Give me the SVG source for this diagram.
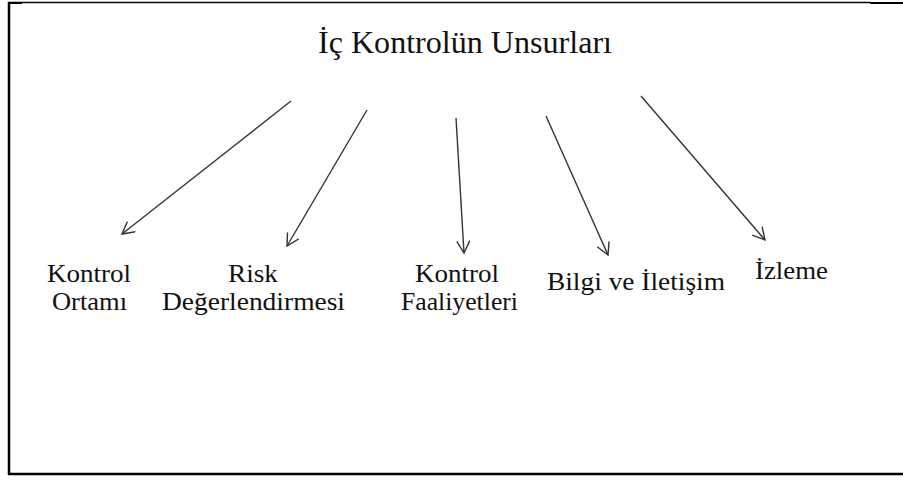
<svg xmlns="http://www.w3.org/2000/svg" width="903" height="480" viewBox="0 0 903 480">
<style>
text{font-family:"Liberation Serif","Times New Roman",serif;fill:#111;}
.t{font-size:31px;}
.l{font-size:24.5px;}
.c{stroke:#333;stroke-width:1.4;fill:none;marker-end:url(#ah);}
.b{stroke:#000;fill:none;}
</style>
<defs>
<marker id="ah" viewBox="-14 -7 16 14" markerWidth="16" markerHeight="14" refX="0" refY="0" orient="auto" markerUnits="userSpaceOnUse">
<path d="M-12,-6.5 L0,0 L-12,6.5" fill="none" stroke="#333" stroke-width="1.4"/>
</marker>
</defs>
<rect width="903" height="480" fill="#fff"/>
<g id="frame">
<line class="b" x1="9" y1="2" x2="9" y2="475" stroke-width="2.5"/>
<line class="b" x1="8" y1="2.5" x2="870" y2="2.5" stroke-width="1.3"/>
<line class="b" x1="8" y1="3" x2="22" y2="3" stroke-width="2"/>
<line class="b" x1="870" y1="3" x2="903" y2="3" stroke-width="2.2"/>
<line class="b" x1="8" y1="474" x2="903" y2="474" stroke-width="2.5"/>
</g>
<g id="title"><text class="t" x="318" y="53" textLength="294" lengthAdjust="spacingAndGlyphs">İç Kontrolün Unsurları</text></g>
<g id="connectors">
<line class="c" x1="291" y1="101" x2="122" y2="234"/>
<line class="c" x1="367" y1="110" x2="287" y2="246"/>
<line class="c" x1="456" y1="118" x2="464" y2="253"/>
<line class="c" x1="546" y1="116" x2="608" y2="255"/>
<line class="c" x1="641" y1="96" x2="765" y2="240"/>
</g>
<g id="n1"><text class="l" x="47" y="282" textLength="84" lengthAdjust="spacingAndGlyphs">Kontrol</text><text class="l" x="52" y="310" textLength="75" lengthAdjust="spacingAndGlyphs">Ortamı</text></g>
<g id="n2"><text class="l" x="228" y="282" textLength="50" lengthAdjust="spacingAndGlyphs">Risk</text><text class="l" x="162" y="310" textLength="183" lengthAdjust="spacingAndGlyphs">Değerlendirmesi</text></g>
<g id="n3"><text class="l" x="415" y="282" textLength="84" lengthAdjust="spacingAndGlyphs">Kontrol</text><text class="l" x="401" y="310" textLength="117" lengthAdjust="spacingAndGlyphs">Faaliyetleri</text></g>
<g id="n4"><text class="l" x="547" y="290" textLength="178" lengthAdjust="spacingAndGlyphs">Bilgi ve İletişim</text></g>
<g id="n5"><text class="l" x="755" y="279" textLength="73" lengthAdjust="spacingAndGlyphs">İzleme</text></g>
</svg>
